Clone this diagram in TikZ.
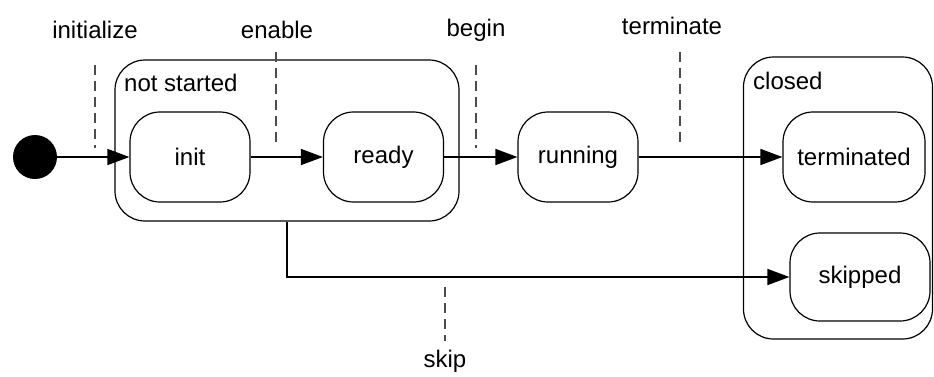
\documentclass[tikz,border=0pt]{standalone}
\usepackage{fontspec}
\setmainfont{Liberation Sans}
\usetikzlibrary{arrows.meta}
\begin{document}
\begin{tikzpicture}[x=1pt,y=-1pt,
  every node/.style={font=\fontsize{24}{26}\selectfont, inner sep=0pt},
  state/.style={draw, line width=1.2pt, rounded corners=30pt, minimum width=120pt, minimum height=90pt},
  container/.style={draw, line width=1.2pt, rounded corners=30pt},
  arr/.style={line width=1.5pt, -{Triangle[length=22pt,width=16pt]}},
  trig/.style={line width=1.5pt, dash pattern=on 10pt off 6pt, gray!60!black}]
\useasboundingbox (0,0) rectangle (934,376);
% containers
\node[container, minimum width=344pt, minimum height=161pt] (ns) at (287,140.5) {};
\node[anchor=west] (nslbl) at (124,83) {not started};
\node[container, minimum width=189pt, minimum height=282pt] (closed) at (838,198) {};
\node[anchor=west] (cllbl) at (753,81) {closed};
% initial
\node[circle, fill=black, minimum size=44pt] (start) at (35,157) {};
% states
\node[state] (init) at (190,157) {init};
\node[state] (ready) at (383.5,157) {ready};
\node[state] (running) at (578,157) {running};
\node[state, minimum width=142pt] (term) at (854,157) {terminated};
\node[state, minimum width=140pt, minimum height=88pt] (skipped) at (860,277) {skipped};
% transitions
\draw[arr] (start) -- (init);
\draw[arr] (init) -- (ready);
\draw[arr] (ready) -- (running);
\draw[arr] (running) -- (term);
\draw[arr] (ns.south) |- (skipped.west);
% trigger labels
\node (tinit) at (95,30) {initialize};
\node (tenable) at (277,30) {enable};
\node (tbegin) at (476,30) {begin};
\node (tterm) at (672,26) {terminate};
\node (tskip) at (445,361) {skip};
\coordinate (d1a) at (95,65); \coordinate (d1b) at (95,148);
\coordinate (d2a) at (276,52); \coordinate (d2b) at (276,148);
\coordinate (d3a) at (476,65); \coordinate (d3b) at (476,148);
\coordinate (d4a) at (680,52); \coordinate (d4b) at (680,148);
\coordinate (d5a) at (445,287); \coordinate (d5b) at (445,341);
\draw[trig] (d1a) -- (d1b);
\draw[trig] (d2a) -- (d2b);
\draw[trig] (d3a) -- (d3b);
\draw[trig] (d4a) -- (d4b);
\draw[trig] (d5a) -- (d5b);
\end{tikzpicture}
\end{document}
